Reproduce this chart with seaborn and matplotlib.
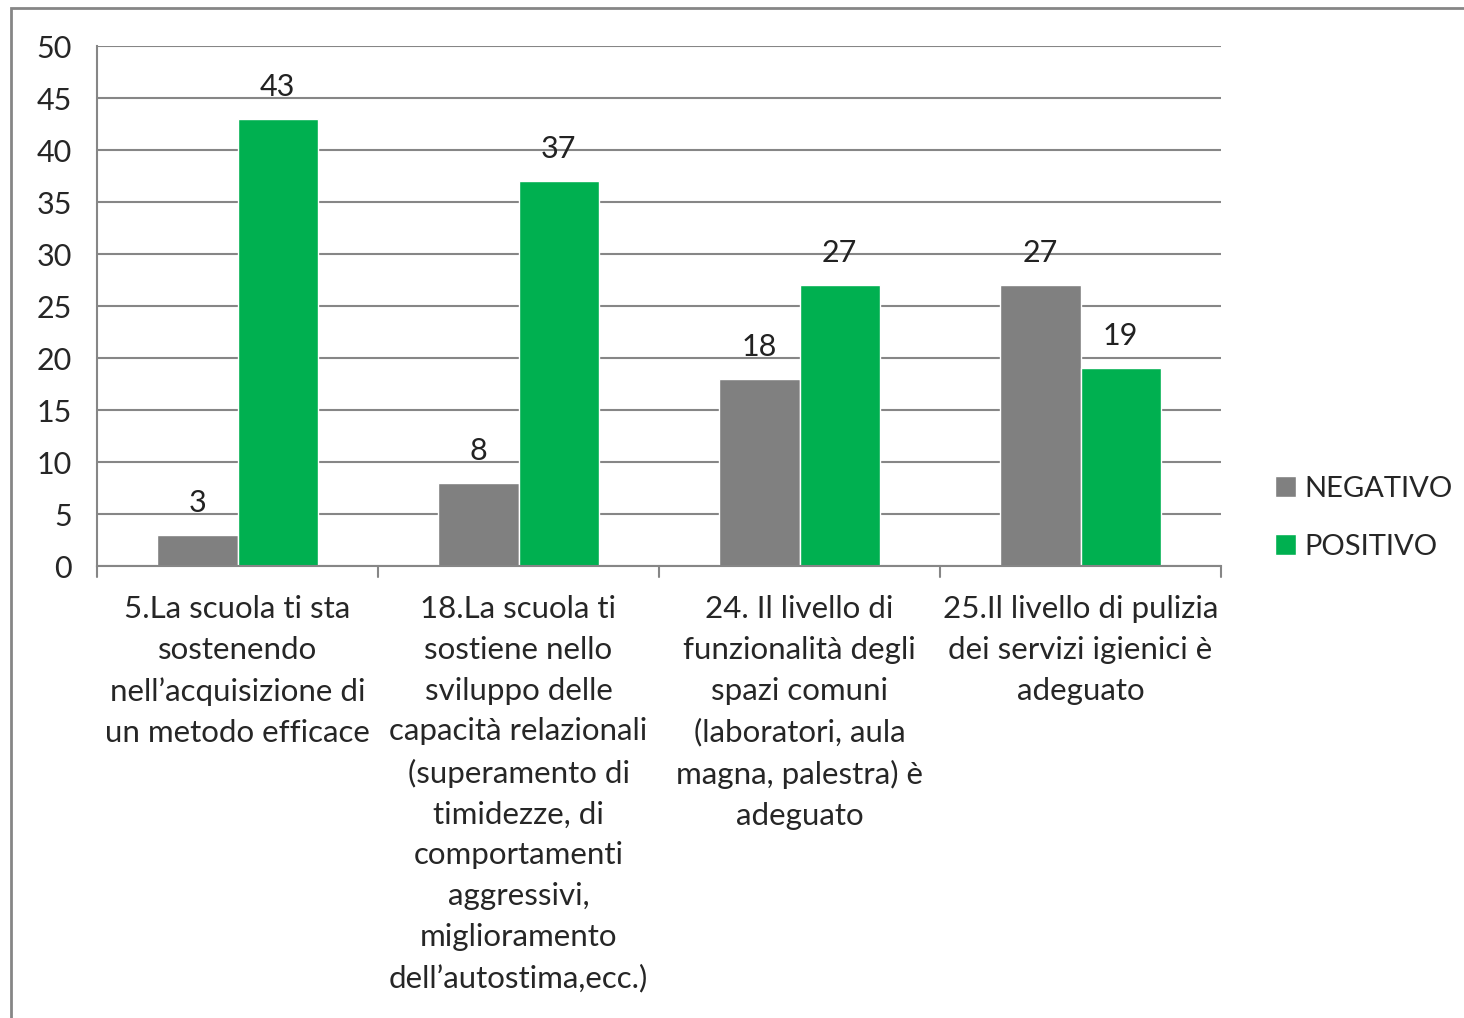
import matplotlib.pyplot as plt
import matplotlib.patches as mpatches
import pandas as pd
import seaborn as sns

categories = [
    "5.La scuola ti sta\nsostenendo\nnell\u2019acquisizione di\nun metodo efficace",
    "18.La scuola ti\nsostiene nello\nsviluppo delle\ncapacità relazionali\n(superamento di\ntimidezze, di\ncomportamenti\naggressivi,\nmiglioramento\ndell\u2019autostima,ecc.)",
    "24. Il livello di\nfunzionalità degli\nspazi comuni\n(laboratori, aula\nmagna, palestra) è\nadeguato",
    "25.Il livello di pulizia\ndei servizi igienici è\nadeguato",
]
series = ["NEGATIVO", "POSITIVO"]
negativo = [3, 8, 18, 27]
positivo = [43, 37, 27, 19]
colors = ["#808080", "#00B050"]

df = pd.DataFrame({
    "cat": categories * 2,
    "serie": [series[0]] * 4 + [series[1]] * 4,
    "val": negativo + positivo,
})

sns.set_style("white")
plt.rcParams['font.family'] = ['Lato', 'DejaVu Sans']

fig = plt.figure(figsize=(14.64, 10.18), dpi=100)
ax = fig.add_axes([97 / 1464, 1 - 566 / 1018, (1221 - 97) / 1464, (566 - 46) / 1018])

# outer frame of the chart area
fig.patches.append(mpatches.Rectangle((11 / 1464, -0.05), 1.2, 1 - 8 / 1018 + 0.05,
                                      transform=fig.transFigure, fill=False,
                                      edgecolor="#868686", linewidth=2))

sns.barplot(data=df, x="cat", y="val", hue="serie", palette=colors,
            width=0.57, saturation=1, ax=ax, legend=True)

for cont in ax.containers:
    ax.bar_label(cont, padding=13, fontsize=22, color="#222222")

ax.set_ylim(0, 50)
ax.set_xlim(-0.5, 3.5)
ax.set_yticks(range(0, 51, 5))
ax.yaxis.grid(True, color="#868686", linewidth=1.5)
ax.set_axisbelow(True)
ax.set_xlabel("")
ax.set_ylabel("")
for s in ["top", "right"]:
    ax.spines[s].set_visible(False)
for s in ["left", "bottom"]:
    ax.spines[s].set_color("#868686")
    ax.spines[s].set_linewidth(1.5)

ax.tick_params(axis="y", length=9, width=1.5, color="#868686", labelsize=22, pad=9)
ax.set_xticks([0, 1, 2, 3])
ax.set_xticklabels(categories, fontsize=22.5, linespacing=1.555)
ax.tick_params(axis="x", length=0, pad=21)
# category separators below the axis
for xb in [-0.5, 0.5, 1.5, 2.5, 3.5]:
    ax.plot([xb, xb], [0, -0.021 * 50], color="#868686", linewidth=1.5, clip_on=False)

handles, labels = ax.get_legend_handles_labels()
ax.legend(handles, labels, loc="center left", bbox_to_anchor=(1.025, 0.093),
          frameon=False, fontsize=21, handlelength=0.7, handleheight=0.7,
          handletextpad=0.3, labelspacing=1.1)

fig.savefig("out.png", dpi=100)
